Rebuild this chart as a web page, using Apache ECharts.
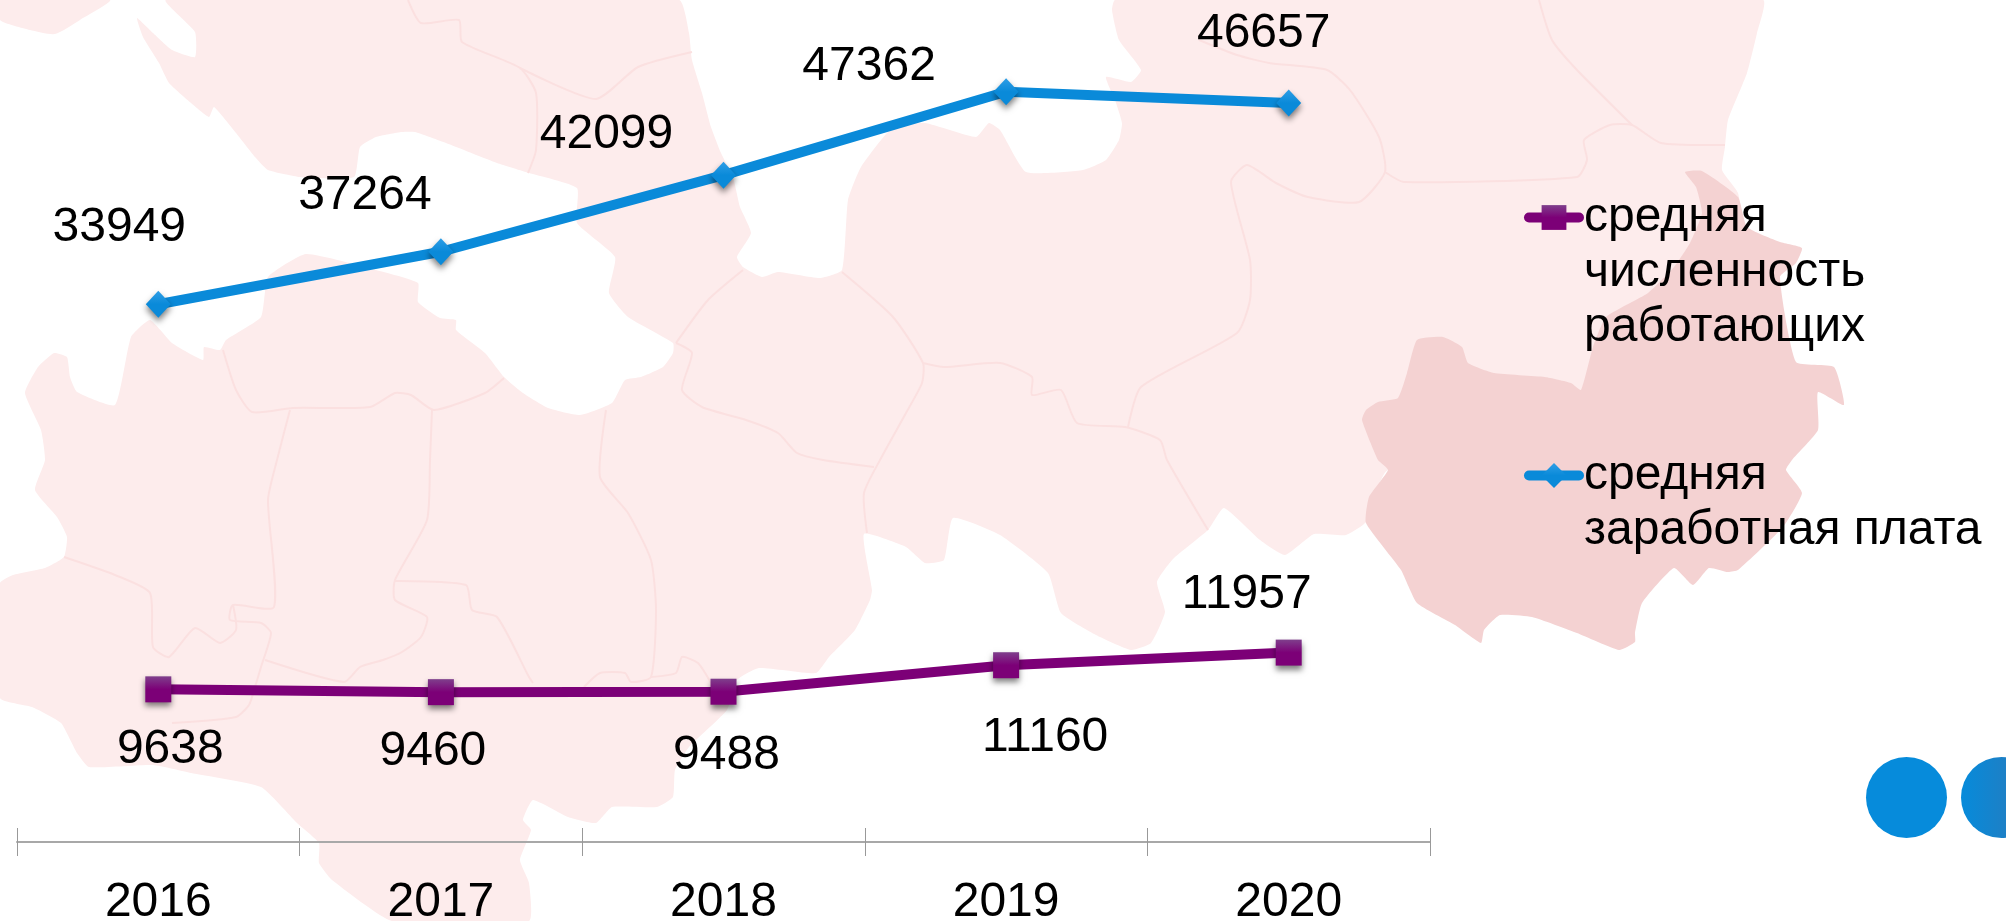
<!DOCTYPE html>
<html>
<head>
<meta charset="utf-8">
<title>chart</title>
<style>
html,body{margin:0;padding:0;background:#fff;}
#main{width:2006px;height:921px;}
</style>
<script src="https://cdn.jsdelivr.net/npm/echarts@6/dist/echarts.min.js"></script>
</head>
<body>
<div id="main"></div>
<script>
var years = ['2016','2017','2018','2019','2020'];
var workers = [9638,9460,9488,11160,11957];
var salary = [33949,37264,42099,47362,46657];
var workersName = 'средняя численность работающих';
var salaryName = 'средняя заработная плата';
// label shift from each point, px
var workersLabelShift = [[12,60],[-8,60],[3,64],[39,73],[-42,-58]];
var salaryLabelShift = [[-39,-76],[-76,-56],[-117,-40],[-137,-25],[-25,-69]];

// background map, decoration only
var mapBlob = [[0,0],[110,0],[80,20],[55,34],[30,30],[0,20]];
var mapLight = [[166,0],[679,0],[689,33],[692,60],[702,93],[711,127],[721,153],[733,177],[740,207],[751,233],[737,257],[743,267],[762,277],[778,272],[820,278],[842,270],[848,200],[861,167],[893,127],[925,123],[976,137],[989,123],[1000,130],[1026,172],[1083,170],[1106,160],[1119,140],[1122,123],[1115,100],[1106,77],[1131,82],[1141,70],[1119,40],[1112,10],[1115,0],[1763,0],[1757,33],[1747,73],[1728,120],[1725,147],[1722,170],[1738,193],[1750,260],[1780,300],[1780,400],[1388,470],[1366,522],[1346,535],[1314,534],[1285,555],[1260,540],[1224,508],[1208,530],[1173,559],[1157,582],[1165,612],[1151,643],[1131,650],[1096,635],[1061,613],[1048,573],[1000,535],[953,518],[944,560],[925,563],[906,547],[864,534],[872,590],[870,600],[855,630],[829,657],[816,673],[759,668],[737,680],[727,710],[689,747],[675,770],[673,797],[657,807],[612,807],[596,823],[568,817],[533,800],[523,820],[531,830],[520,860],[529,883],[529,921],[392,921],[332,880],[319,863],[319,843],[297,823],[261,787],[191,773],[153,765],[89,767],[77,753],[61,723],[32,707],[0,698],[0,583],[13,575],[45,568],[64,557],[67,537],[57,517],[35,490],[45,460],[41,430],[25,393],[38,367],[54,353],[67,357],[70,377],[77,392],[115,405],[131,337],[150,320],[172,343],[203,360],[204,347],[220,350],[226,340],[261,317],[268,277],[306,254],[376,270],[418,283],[418,302],[440,318],[456,320],[456,330],[485,353],[504,377],[523,393],[548,408],[580,415],[612,403],[625,380],[641,377],[663,367],[673,353],[673,343],[628,317],[609,293],[615,257],[577,223],[577,188],[529,173],[497,163],[446,143],[415,132],[402,132],[376,137],[360,147],[354,177],[300,177],[268,170],[255,157],[236,133],[214,107],[209,117],[191,103],[169,83],[159,63],[143,37],[137,18],[153,33],[172,50],[195,57],[195,32]];
var mapDark = [[1685,172],[1702,171],[1738,197],[1747,227],[1780,242],[1802,248],[1796,263],[1780,277],[1796,362],[1834,367],[1844,405],[1818,392],[1818,430],[1792,460],[1786,470],[1802,493],[1783,527],[1738,570],[1728,572],[1709,568],[1693,585],[1674,568],[1642,603],[1635,633],[1635,642],[1619,650],[1577,633],[1532,617],[1500,615],[1484,630],[1481,643],[1455,625],[1417,603],[1401,570],[1366,523],[1369,497],[1388,470],[1378,460],[1362,420],[1366,410],[1378,402],[1398,398],[1407,373],[1417,340],[1443,337],[1462,347],[1468,363],[1494,373],[1545,377],[1571,383],[1581,390],[1593,347],[1606,317],[1648,293],[1674,267],[1690,243],[1702,213],[1696,187]];
var mapBorders = [
    [[408,0],[421,23],[459,20],[462,42],[520,68],[536,93],[536,150],[528,173]],
    [[520,68],[596,99],[638,67],[692,52]],
    [[504,378],[485,393],[434,410],[411,395],[395,393],[370,407],[293,408],[252,412],[236,390],[223,350]],
    [[290,410],[277,460],[268,500],[274,607],[233,605],[230,620],[261,623],[271,633],[261,667],[255,687],[249,705],[236,717],[172,723]],
    [[432,410],[430,460],[427,520],[395,580],[395,600],[427,617],[421,637],[402,652],[383,660],[360,667],[344,682],[265,660]],
    [[395,581],[466,585],[472,610],[497,617],[529,677],[533,683]],
    [[676,343],[692,353],[682,390],[702,407],[746,420],[778,433],[797,453],[823,460],[874,467]],
    [[743,270],[708,300],[676,343]],
    [[842,272],[893,317],[923,363],[922,383],[906,413],[880,460],[864,493],[867,533]],
    [[923,363],[944,367],[1000,363],[1032,377],[1032,395],[1061,390],[1077,423],[1125,427],[1160,440],[1167,460],[1208,530]],
    [[1128,427],[1141,387],[1237,333],[1250,300],[1250,260],[1231,182],[1247,165],[1276,183],[1308,197],[1359,202],[1385,172],[1379,137],[1350,90],[1327,70],[1269,63],[1237,55],[1199,40]],
    [[1385,172],[1404,182],[1577,177],[1587,160],[1584,140],[1610,125],[1632,125],[1661,143],[1725,145]],
    [[1632,125],[1577,70],[1552,40],[1539,0]],
    [[606,410],[600,477],[628,513],[651,560],[656,610],[651,677],[631,682],[625,673],[600,673],[584,687]],
    [[651,677],[676,673],[682,657],[698,663],[711,683]],
    [[64,557],[115,575],[150,593],[153,647],[169,657],[195,628],[220,643],[236,630],[233,605]]
];

var fontName = '"Liberation Sans", Arial, sans-serif';
var chart = echarts.init(document.getElementById('main'));

function buildPoints(values, shifts){
    return values.map(function(v, i){
        return {value: v, label: {offset: shifts[i]}};
    });
}

function vGrad(top, bottom){
    return new echarts.graphic.LinearGradient(0, 0, 0, 1, [
        {offset: 0, color: top},
        {offset: 0.5, color: bottom},
        {offset: 1, color: bottom}
    ]);
}

var graphics = [
    {type: 'polygon', silent: true, shape: {points: mapBlob, smooth: 0.2}, style: {fill: '#fdecec'}},
    {type: 'polygon', silent: true, shape: {points: mapLight, smooth: 0.15}, style: {fill: '#fdecec'}}
];
mapBorders.forEach(function(pts){
    graphics.push({type: 'polyline', silent: true, shape: {points: pts, smooth: 0.2},
        style: {stroke: '#fbe0e0', lineWidth: 2, fill: null}});
});
graphics.push({type: 'polygon', silent: true, shape: {points: mapDark, smooth: 0.15}, style: {fill: '#f4d2d2'}});
graphics.push({type: 'circle', silent: true, shape: {cx: 1906.5, cy: 797.5, r: 40.5}, style: {fill: '#068bdb'}});
graphics.push({type: 'circle', silent: true, shape: {cx: 2001.5, cy: 797.5, r: 40.5}, style: {
    fill: new echarts.graphic.LinearGradient(0, 0, 1, 0, [{offset: 0, color: '#068bdb'}, {offset: 0.6, color: '#1f7fc4'}, {offset: 1, color: '#1f7fc4'}])
}});

var legendBase = {
    orient: 'vertical',
    left: 1519,
    selectedMode: false,
    itemWidth: 50,
    itemHeight: 31,
    lineStyle: {width: 10, cap: 'round'},
    itemStyle: {shadowBlur: 0, shadowOffsetY: 0, shadowColor: 'transparent'},
    textStyle: {color: '#000', fontFamily: fontName, fontSize: 48, lineHeight: 55}
};

var option = {
    animation: false,
    backgroundColor: '#fff',
    graphic: graphics,
    grid: {left: 17, top: 50, width: 1413, height: 792, outerBoundsMode: 'none'},
    legend: [
        Object.assign({}, legendBase, {
            top: 75, data: [workersName],
            formatter: function(){ return '\n\nсредняя\nчисленность\nработающих'; }
        }),
        Object.assign({}, legendBase, {
            top: 388, data: [salaryName],
            formatter: function(){ return '\nсредняя\nзаработная плата'; }
        })
    ],
    xAxis: [{
        type: 'category',
        data: years,
        boundaryGap: true,
        axisLine: {lineStyle: {color: '#a8a8a8', width: 2}},
        axisTick: {show: true, length: 14, lineStyle: {color: '#999', width: 1}},
        axisLabel: {color: '#000', fontFamily: fontName, fontSize: 48, margin: 37}
    },{
        // second copy only for the upper half of the ticks
        type: 'category',
        position: 'bottom',
        data: years,
        boundaryGap: true,
        axisLine: {show: false},
        axisTick: {show: true, inside: true, length: 14, lineStyle: {color: '#999', width: 1}},
        axisLabel: {show: false}
    }],
    yAxis: {type: 'value', min: 0, max: 50000, show: false},
    series: [{
        name: workersName,
        type: 'line',
        data: buildPoints(workers, workersLabelShift),
        symbol: 'rect',
        symbolSize: 26,
        lineStyle: {color: '#7c0077', width: 10, cap: 'round'},
        itemStyle: {color: vGrad('#7f3f8c', '#7c0077'), shadowBlur: 6, shadowOffsetY: 4, shadowColor: 'rgba(0,0,0,0.5)'},
        label: {show: true, position: 'inside', align: 'center', verticalAlign: 'middle', color: '#000', fontFamily: fontName, fontSize: 48}
    },{
        name: salaryName,
        type: 'line',
        data: buildPoints(salary, salaryLabelShift),
        symbol: 'diamond',
        symbolSize: [25, 27],
        lineStyle: {color: '#0a8ad9', width: 10, cap: 'round'},
        itemStyle: {color: vGrad('#2f9ee6', '#0a8ad9'), shadowBlur: 6, shadowOffsetY: 4, shadowColor: 'rgba(0,0,0,0.5)'},
        label: {show: true, position: 'inside', align: 'center', verticalAlign: 'middle', color: '#000', fontFamily: fontName, fontSize: 48}
    }]
};
chart.setOption(option);
</script>
</body>
</html>
